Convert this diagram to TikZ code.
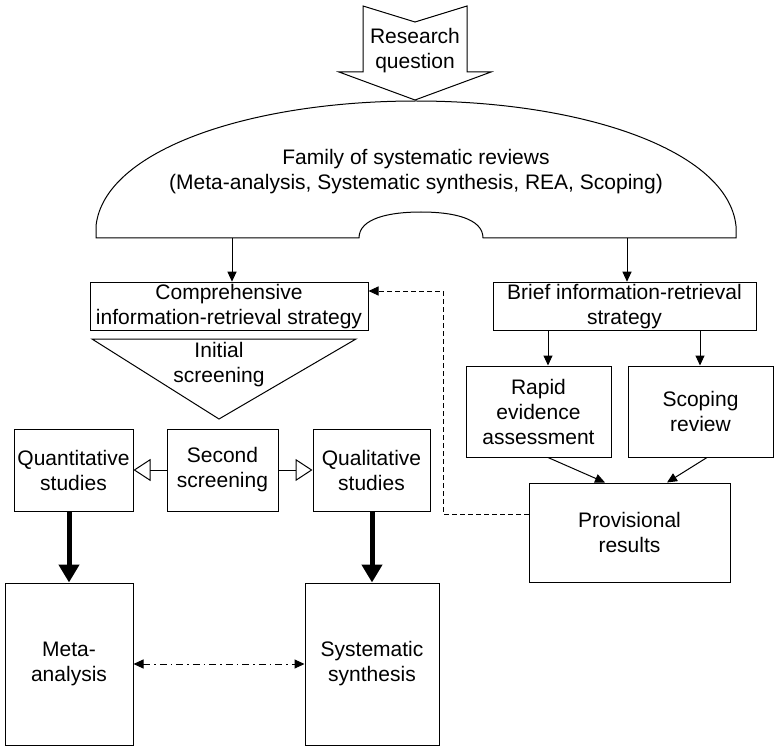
\documentclass[tikz,border=0pt]{standalone}
\usepackage{fontspec}
\setmainfont{Liberation Sans}
\usetikzlibrary{arrows.meta, calc}
\tikzset{
  box/.style={draw, line width=1pt, align=center, inner sep=2pt, font=\fontsize{21}{25}\selectfont},
  lbl/.style={align=center, inner sep=0pt, font=\fontsize{21}{25}\selectfont},
  shp/.style={draw, line width=1pt, fill=white},
  arr/.style={-{Triangle[length=10pt,width=9pt]}, line width=1pt},
  fat/.style={-{Triangle[length=18pt,width=20pt]}, line width=5pt},
  hollow/.style={-{Triangle[open,length=17pt,width=22pt]}, line width=1pt},
  loopback/.style={arr, dash pattern=on 5pt off 3pt},
  link/.style={{Triangle[length=10pt,width=9pt]}-{Triangle[length=10pt,width=9pt]}, line width=1pt, dash pattern=on 7pt off 4pt on 1.5pt off 4pt}
}

\begin{document}
\begin{tikzpicture}[x=1pt, y=-1pt]
  \useasboundingbox (0,0) rectangle (774,746);

  % research question arrow
  \draw[shp] (363,6) -- (415,22) -- (467,6) -- (467,72) -- (491,72) -- (415,100)
    -- (339,72) -- (363,72) -- cycle;
  \node[lbl] (rq) at (415,51) {Research\\question};

  % family dome
  \draw[shp] (96,238) -- (96,226) .. controls (104,150) and (250,101) .. (416,101)
    .. controls (582,101) and (728,150) .. (736,226) -- (736,238) -- (483,238)
    .. controls (483,218) and (452,212) .. (421,212)
    .. controls (390,212) and (359,218) .. (359,238) -- cycle;
  \node[lbl] (family) at (416,172) {Family of systematic reviews\\(Meta-analysis, Systematic synthesis, REA, Scoping)};
  \coordinate (domeL) at (232,238);
  \coordinate (domeR) at (627,238);

  \node[box, minimum width=278pt, minimum height=47pt] (comp) at (229,306.5) {Comprehensive\\information-retrieval strategy};
  \node[box, minimum width=263pt, minimum height=47pt] (brief) at (624.5,306.5) {Brief information-retrieval\\strategy};

  % initial screening funnel
  \draw[shp] (92,339) -- (356,339) -- (219,419) -- cycle;
  \node[lbl] (init) at (219,365) {Initial\\screening};

  \node[box, minimum width=119pt, minimum height=82pt] (quant) at (73.5,470) {Quantitative\\studies};
  \node[box, minimum width=111pt, minimum height=82pt] (second) at (222.5,470) {Second\\screening};
  \node[box, minimum width=117pt, minimum height=82pt] (qual) at (371.5,470) {Qualitative\\studies};
  \node[box, minimum width=128pt, minimum height=162pt] (meta) at (69,664) {Meta-\\analysis};
  \node[box, minimum width=134pt, minimum height=162pt] (synth) at (372,664) {Systematic\\synthesis};

  \node[box, minimum width=145pt, minimum height=91pt] (rapid) at (538.5,411.5) {Rapid\\evidence\\assessment};
  \node[box, minimum width=145pt, minimum height=91pt] (scoping) at (700.5,411.5) {Scoping\\review};
  \node[box, minimum width=201pt, minimum height=99pt] (prov) at (629.5,532.5) {Provisional\\results};
  \coordinate (back) at (443,514);

  \draw[arr] (domeL) -- (domeL |- comp.north);
  \draw[arr] (domeR) -- (domeR |- brief.north);
  \draw[arr] (brief.south -| 548,0) -- (rapid.north -| 548,0);
  \draw[arr] (brief.south -| 700,0) -- (scoping.north -| 700,0);
  \draw[arr] (rapid.south -| 548,0) -- (prov.north -| 605,0);
  \draw[arr] (scoping.south -| 707,0) -- (prov.north -| 667,0);
  \draw[hollow] (second) -- (quant);
  \draw[hollow] (second) -- (qual);
  \draw[fat] (quant.south -| meta.north) -- (meta.north);
  \draw[fat] (qual.south -| synth.north) -- (synth.north);
  \draw[link] (meta) -- (synth);
  \draw[loopback] (prov.west |- back) -- (back) |- ([yshift=15.5pt]comp.east);
\end{tikzpicture}
\end{document}
